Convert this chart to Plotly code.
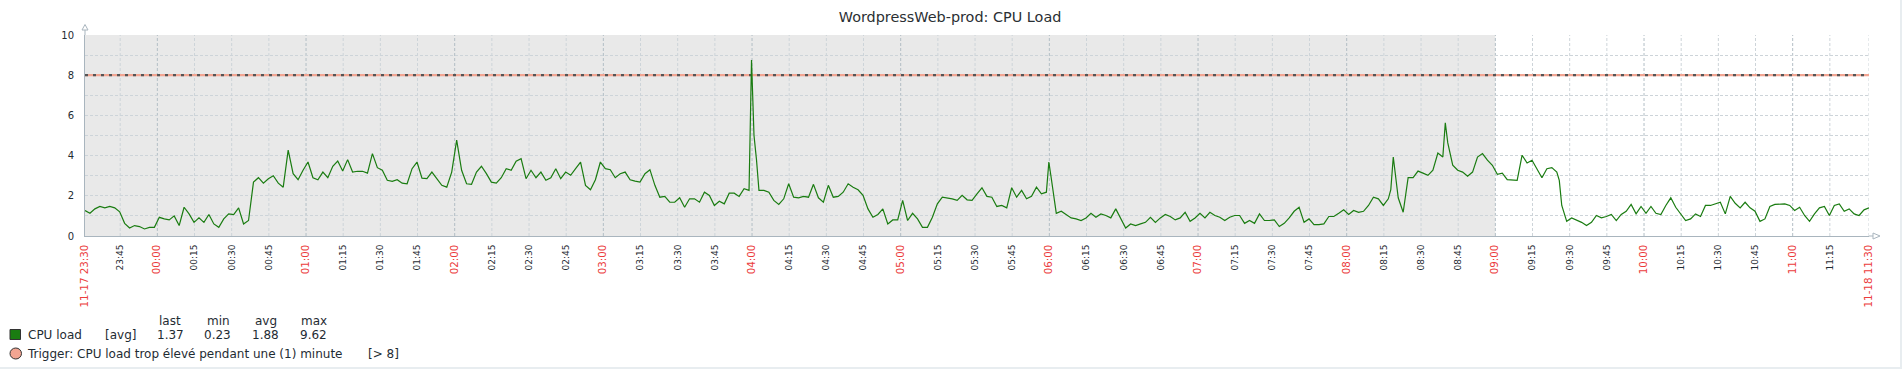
import plotly.graph_objects as go

# ---------------- data ----------------
TITLE = "WordpressWeb-prod: CPU Load"
SERIES_NAME = "CPU load"
SERIES_FUNC = "[avg]"
TRIGGER_TEXT = "Trigger: CPU load trop élevé pendant une (1) minute"
TRIGGER_COND = "[> 8]"
THRESHOLD = 8

# minutes since the start of the displayed window (23:30:48)
TIMES = [0, 2, 4, 6, 8, 10, 12, 14, 16, 18, 20, 22, 24, 26, 28, 30, 32, 34, 36, 38,
         40, 42, 44, 46, 48, 50, 52, 54, 56, 58, 60, 62, 64, 66, 68, 70, 72, 74, 76, 78,
         80, 82, 84, 86, 88, 90, 92, 94, 96, 98, 100, 102, 104, 106, 108, 110, 112, 114, 116, 118,
         120, 122, 124, 126, 128, 130, 132, 134, 136, 138, 140, 142, 144, 146, 148, 150, 152, 154, 156, 158,
         160, 162, 164, 166, 168, 170, 172, 174, 176, 178, 180, 182, 184, 186, 188, 190, 192, 194, 196, 198,
         200, 202, 204, 206, 208, 210, 212, 214, 216, 218, 220, 222, 224, 226, 228, 230, 232, 234,
         236, 238, 240, 242, 244, 246, 248, 250, 252, 254, 256, 258, 260, 262, 264, 266, 268, 269, 270, 271,
         272, 274, 276, 278, 280, 282, 284, 286, 288, 290, 292, 294, 296, 298, 300, 302, 304, 306, 308, 310,
         312, 314, 316, 318, 320, 322, 324, 326, 328, 330, 332, 334, 336, 338, 340, 342, 344, 346, 348, 350,
         352, 354, 356, 358, 360, 362, 364, 366, 368, 370, 372, 374, 376, 378, 380, 382, 384, 386, 388, 389,
         390, 392, 394, 396, 398, 400, 402, 404, 406, 408, 410, 412, 414, 416, 418, 420, 422, 424, 426, 428,
         430, 432, 434, 436, 438, 440, 442, 444, 446, 448, 450, 452, 454, 456, 458, 460, 462, 464, 466, 468,
         470, 472, 474, 476, 478, 480, 482, 484, 486, 488, 490, 492, 494, 496, 498, 500, 502, 504, 506, 508,
         510, 512, 514, 516, 518, 520, 522, 524, 526, 527, 528, 530, 532, 534, 536, 538, 540, 542, 544, 546,
         548, 549, 550, 552, 554, 556, 558, 560, 562, 564, 566, 568, 570, 572, 574, 576, 578, 580, 582, 584,
         586, 588, 590, 592, 594, 595, 596, 598, 600, 602, 604, 606, 608, 610, 612, 614, 616, 618, 620, 622,
         624, 626, 628, 630, 632, 634, 636, 638, 640, 642, 644, 646, 648, 650, 652, 654, 656, 658, 660, 662,
         664, 666, 668, 670, 672, 674, 676, 678, 680, 682, 684, 686, 688, 690, 692, 694, 696, 698, 700, 702,
         704, 706, 708, 710, 712, 714, 716, 718, 720]

CPU_LOAD = [1.27, 1.13, 1.35, 1.47, 1.40, 1.47, 1.40, 1.20, 0.63, 0.40, 0.52, 0.47, 0.35, 0.43, 0.43, 0.93, 0.85, 0.80, 1.00, 0.52,
            1.43, 1.10, 0.68, 0.90, 0.68, 1.07, 0.60, 0.43, 0.85, 1.10, 1.07, 1.40, 0.60, 0.77, 2.68, 2.90, 2.63, 2.85, 3.00, 2.63,
            2.43, 4.27, 3.10, 2.80, 3.27, 3.68, 2.90, 2.80, 3.18, 2.90, 3.47, 3.73, 3.23, 3.80, 3.18, 3.22, 3.22, 3.13, 4.10, 3.40,
            3.27, 2.77, 2.72, 2.80, 2.63, 2.60, 3.35, 3.68, 2.88, 2.85, 3.18, 2.85, 2.52, 2.43, 3.18, 4.77, 3.27, 2.60, 2.57, 3.18,
            3.47, 3.10, 2.68, 2.63, 2.90, 3.35, 3.27, 3.72, 3.85, 2.85, 3.27, 2.90, 3.18, 2.77, 2.90, 3.35, 2.85, 3.18, 3.02, 3.35,
            3.68, 2.52, 2.30, 2.80, 3.68, 3.35, 3.30, 2.90, 3.10, 3.18, 2.80, 2.73, 2.68, 3.10, 3.30, 2.52, 1.93, 1.97,
            1.68, 1.68, 1.90, 1.43, 1.85, 1.85, 1.68, 2.18, 2.02, 1.52, 1.73, 1.60, 2.13, 2.13, 1.97, 2.35, 2.27, 8.75, 5.00, 3.80,
            2.27, 2.27, 2.18, 1.77, 1.57, 1.85, 2.60, 1.93, 1.90, 1.97, 1.93, 2.57, 1.90, 1.68, 2.52, 1.93, 1.97, 2.18, 2.60, 2.43,
            2.30, 2.02, 1.35, 0.93, 1.07, 1.35, 0.60, 0.80, 0.80, 1.77, 0.77, 1.13, 0.85, 0.43, 0.43, 0.93, 1.60, 1.93, 1.90, 1.85,
            1.77, 2.02, 1.80, 1.77, 2.10, 2.40, 1.97, 1.93, 1.47, 1.52, 1.40, 2.40, 1.93, 2.27, 1.85, 1.97, 2.43, 2.10, 2.18, 3.68,
            2.85, 1.13, 1.23, 1.07, 0.90, 0.85, 0.77, 0.90, 1.13, 0.93, 1.10, 1.02, 0.90, 1.35, 0.85, 0.40, 0.60, 0.52, 0.60, 0.68,
            0.93, 0.68, 0.90, 1.07, 0.97, 0.80, 0.90, 1.18, 0.73, 0.90, 1.13, 0.90, 1.18, 1.02, 0.93, 0.77, 0.93, 1.02, 1.02, 0.63,
            0.77, 0.63, 1.10, 0.77, 0.77, 0.80, 0.47, 0.63, 0.90, 1.23, 1.43, 0.68, 0.85, 0.57, 0.57, 0.60, 0.97, 0.97, 1.13, 1.30,
            1.07, 1.27, 1.18, 1.23, 1.52, 1.93, 1.85, 1.52, 1.85, 2.30, 3.93, 1.90, 1.18, 2.90, 2.90, 3.23, 3.13, 3.02, 3.27, 4.13,
            3.93, 5.63, 4.63, 3.52, 3.27, 3.18, 2.97, 3.18, 3.93, 4.10, 3.77, 3.52, 3.07, 3.13, 2.80, 2.80, 2.77, 4.02, 3.63, 3.77,
            3.30, 2.90, 3.35, 3.40, 3.18, 2.77, 1.52, 0.73, 0.90, 0.80, 0.68, 0.52, 0.68, 1.02, 0.90, 0.97, 1.07, 0.77, 1.07, 1.23,
            1.57, 1.10, 1.47, 1.13, 1.47, 1.13, 1.07, 1.52, 1.90, 1.43, 1.10, 0.77, 0.85, 1.10, 0.97, 1.52, 1.52, 1.60, 1.68, 1.10,
            1.97, 1.63, 1.40, 1.68, 1.40, 1.23, 0.73, 0.85, 1.47, 1.57, 1.60, 1.60, 1.52, 1.27, 1.43, 1.02, 0.73, 1.10, 1.40, 1.47,
            1.02, 1.52, 1.60, 1.23, 1.35, 1.10, 1.02, 1.30, 1.40]

Y_TICKS = [0, 2, 4, 6, 8, 10]
TICK_LABELS = ["23:45", "00:00", "00:15", "00:30", "00:45", "01:00", "01:15", "01:30", "01:45",
               "02:00", "02:15", "02:30", "02:45", "03:00", "03:15", "03:30", "03:45",
               "04:00", "04:15", "04:30", "04:45", "05:00", "05:15", "05:30", "05:45",
               "06:00", "06:15", "06:30", "06:45", "07:00", "07:15", "07:30", "07:45",
               "08:00", "08:15", "08:30", "08:45", "09:00", "09:15", "09:30", "09:45",
               "10:00", "10:15", "10:30", "10:45", "11:00", "11:15"]
START_LABEL = "11-17 23:30"
END_LABEL = "11-18 11:30"
WINDOW = 720            # minutes shown
WINDOW_OFFSET = 0.8     # window starts 0.8 min after 23:30
TICK_STEP = 15
WORK_END = "09:00"      # grey shaded area ends here

LEGEND_HEADERS = ["last", "min", "avg", "max"]
LEGEND_VALUES = ["1.37", "0.23", "1.88", "9.62"]

# ---------------- style ----------------
W, H = 1902, 369
L, R, T, B = 85, 33, 35, 133
PW, PH = W - L - R, H - T - B
FONT = "DejaVu Sans"
TXT = "#1F2C33"
RED = "#EB3C3C"
GREEN = "#1A7C11"
SALMON = "#F2A592"
AXIS = "#A9B5BE"
GRID_L = "#CDD4D9"
GRID_D = "#B3BEC6"
GREY_BG = "#E9E9E9"


def px(x):
    return (x - L) / PW


def py(y):
    return (T + PH - y) / PH


tick_x = [TICK_STEP * (i + 1) - WINDOW_OFFSET for i in range(len(TICK_LABELS))]
work_end_x = tick_x[TICK_LABELS.index(WORK_END)]


def red(s):
    return f'<span style="color:{RED};font-size:10.3px">{s}</span>'


all_vals = [0] + tick_x + [WINDOW]
all_text = [red(START_LABEL)] + [red(t) if t.endswith(":00") else t for t in TICK_LABELS] + [red(END_LABEL)]

fig = go.Figure()
fig.add_trace(go.Scatter(x=[0, WINDOW], y=[THRESHOLD, THRESHOLD], mode="lines",
                         line=dict(color=SALMON, width=2.2), hoverinfo="skip"))
fig.add_trace(go.Scatter(x=[0, WINDOW], y=[THRESHOLD, THRESHOLD], mode="lines",
                         line=dict(color="#555555", width=2.2, dash="3px,5px"), hoverinfo="skip"))
fig.add_trace(go.Scatter(x=TIMES, y=CPU_LOAD, mode="lines", name=SERIES_NAME,
                         line=dict(color=GREEN, width=1.2, shape="linear")))

shapes = []
# page (white) with light border outside
shapes.append(dict(type="rect", xref="paper", yref="paper", x0=px(0), x1=px(1900), y0=py(367), y1=py(0),
                   fillcolor="white", line=dict(width=0), layer="below"))
shapes.append(dict(type="rect", xref="x", yref="paper", x0=0, x1=work_end_x, y0=0, y1=1,
                   fillcolor=GREY_BG, line=dict(width=0), layer="below"))
for xv, lbl in zip(tick_x + [WINDOW], TICK_LABELS + ["end"]):
    col = GRID_D if lbl.endswith(":00") else GRID_L
    shapes.append(dict(type="line", xref="x", yref="paper", x0=xv, x1=xv, y0=0, y1=1,
                       line=dict(color=col, width=1, dash="3px,2px"), layer="below"))
# axis extensions and arrows
shapes.append(dict(type="line", xref="paper", yref="paper", x0=0, x1=0, y0=1, y1=py(30),
                   line=dict(color=AXIS, width=1)))
shapes.append(dict(type="path", xref="paper", yref="paper",
                   path=f"M {px(82)},{py(30)} L {px(85)},{py(24.5)} L {px(88)},{py(30)} Z",
                   fillcolor="white", line=dict(color=AXIS, width=1)))
shapes.append(dict(type="line", xref="paper", yref="paper", x0=1, x1=px(1873), y0=0, y1=0,
                   line=dict(color=AXIS, width=1)))
shapes.append(dict(type="path", xref="paper", yref="paper",
                   path=f"M {px(1873)},{py(233)} L {px(1880)},{py(236)} L {px(1873)},{py(239)} Z",
                   fillcolor="white", line=dict(color=AXIS, width=1)))
# legend markers
shapes.append(dict(type="rect", xref="paper", yref="paper", x0=px(10), x1=px(20.5), y0=py(339.5), y1=py(329.5),
                   fillcolor=GREEN, line=dict(color="#333333", width=1)))
shapes.append(dict(type="circle", xref="paper", yref="paper", x0=px(10), x1=px(21.5), y0=py(359), y1=py(348),
                   fillcolor=SALMON, line=dict(color="#333333", width=1)))

ann = []


def text(x, y, s, size=12, anchor="left"):
    ann.append(dict(xref="paper", yref="paper", x=px(x), y=py(y), text=s, showarrow=False,
                    xanchor=anchor, yanchor="middle", font=dict(family=FONT, size=size, color=TXT)))


hdr_x = [157, 205, 253, 299]
val_x = [155, 202, 250, 298]
for xx, s in zip(hdr_x, LEGEND_HEADERS):
    text(xx, 321, s)
text(26, 334.5, SERIES_NAME)
text(103, 334.5, SERIES_FUNC)
for xx, s in zip(val_x, LEGEND_VALUES):
    text(xx, 334.5, s)
text(24.5, 353.5, TRIGGER_TEXT)
text(366, 353.5, TRIGGER_COND)

fig.update_layout(
    template="none",
    width=W, height=H,
    margin=dict(l=L, r=R, t=T, b=B, pad=0),
    paper_bgcolor="#E8EDF0",
    plot_bgcolor="rgba(0,0,0,0)",
    showlegend=False,
    font=dict(family=FONT, color=TXT),
    title=dict(text=TITLE, x=0.4995, xref="container", xanchor="center",
               y=1 - 17 / H, yref="container", yanchor="middle",
               font=dict(family=FONT, size=14.4, color="#2A2F33")),
    shapes=shapes,
    annotations=ann,
    xaxis=dict(range=[0, WINDOW], tickmode="array", tickvals=all_vals, ticktext=all_text,
               tickangle=-90, tickfont=dict(family=FONT, size=9, color=TXT),
               showgrid=False, zeroline=False, showline=True, linecolor=AXIS, linewidth=1,
               ticks="outside", ticklen=4, tickcolor="rgba(0,0,0,0)", automargin=False, fixedrange=True),
    yaxis=dict(range=[0, 10], tickmode="array", tickvals=Y_TICKS, ticktext=[str(v) for v in Y_TICKS],
               tickfont=dict(family=FONT, size=10, color=TXT),
               showgrid=True, gridcolor=GRID_L, griddash="3px,2px", gridwidth=1,
               minor=dict(dtick=1, tick0=0, showgrid=True, gridcolor=GRID_L, griddash="3px,2px", gridwidth=1),
               zeroline=False, showline=True, linecolor=AXIS, linewidth=1,
               ticks="outside", ticklen=8, tickcolor="rgba(0,0,0,0)", automargin=False, fixedrange=True),
)

fig.write_html("out.html", config={"displayModeBar": False},
               post_script="document.body.style.margin='0';document.body.style.overflow='hidden';")
